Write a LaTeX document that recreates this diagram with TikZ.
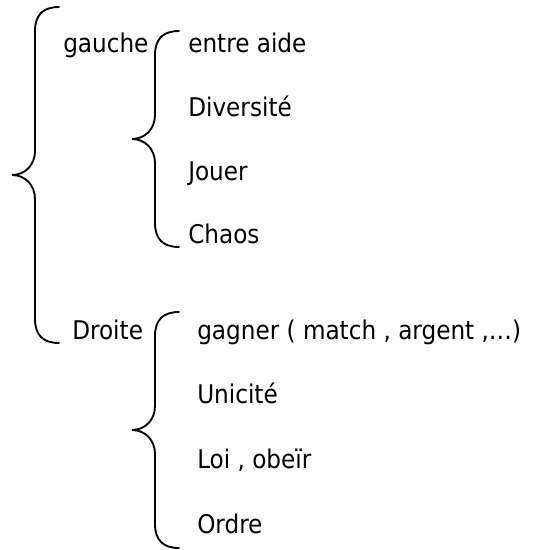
\documentclass[tikz,border=0pt]{standalone}
\usepackage{fontspec}
\setmainfont{DejaVu Sans Condensed}
\usetikzlibrary{positioning}

% brace: line x, top y, tip y, bottom y (pixel units)
\newcommand{\drawbrace}[4]{%
  \draw[bracestyle] (#1+24,#2) .. controls (#1+8,#2) and (#1,#2+8) .. (#1,#2+24)
    -- (#1,#3-24) .. controls (#1,#3-10) and (#1-10,#3) .. (#1-23,#3)
    .. controls (#1-10,#3) and (#1,#3+10) .. (#1,#3+24)
    -- (#1,#4-24) .. controls (#1,#4-8) and (#1+8,#4) .. (#1+24,#4);}

\begin{document}
\begin{tikzpicture}[x=0.75pt, y=-0.75pt,
    bracestyle/.style={line width=1.4pt, line cap=round},
    item/.style={anchor=base west, inner sep=0pt, font=\fontsize{19.3}{21}\selectfont}]

    \useasboundingbox (0,0) rectangle (536,550);

    % Main branches
    \node[item] (gauche) at (63,52) {gauche};
    \node[item] (droite) at (72,339) {Droite};

    % Left side items
    \node[item] (G1) at (188,52) {entre aide};
    \node[item] (G2) at (188,116) {Diversité};
    \node[item] (G3) at (188,180) {Jouer};
    \node[item] (G4) at (188,243) {Chaos};

    % Right side items
    \node[item] (D1) at (197,339) {gagner ( match , argent ,…)};
    \node[item] (D2) at (197,403) {Unicité};
    \node[item] (D3) at (197,468) {Loi , obeïr};
    \node[item] (D4) at (197,533) {Ordre};

    % Braces
    \drawbrace{35}{7}{175}{343}
    \drawbrace{155}{31}{139}{247}
    \drawbrace{155}{312}{430}{548}

\end{tikzpicture}
\end{document}
